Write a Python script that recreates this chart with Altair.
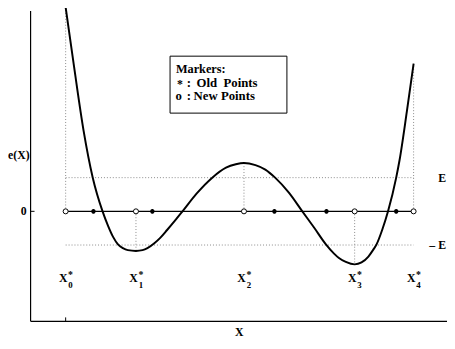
import altair as alt
import pandas as pd

# curve e(X)
curve_x = [0.0, 0.0971, 0.2066, 0.3116, 0.4245, 0.4888, 0.5453, 0.6017, 0.6582, 0.7146,
           0.8083, 0.8839, 0.9404, 1.0194, 1.0871, 1.1662, 1.2565, 1.3434,
           1.5049, 1.6855, 1.8435, 1.9564, 2.0501, 2.1822, 2.2951, 2.4080, 2.5661,
           2.7207, 2.8596, 2.9917, 3.0854, 3.1418, 3.2208, 3.3224, 3.4014, 3.4805,
           3.5369, 3.5742, 3.6386, 3.7062, 3.8000, 3.8383, 3.9230, 4.0000]
curve_y = [6.055, 4.286, 2.391, 1.0, 0.0, -0.437, -0.758, -0.98, -1.093, -1.152,
           -1.175, -1.152, -1.093, -0.948, -0.787, -0.554, -0.277, 0.0,
           0.525, 1.0, 1.297, 1.399, 1.437, 1.370, 1.239, 1.0, 0.554,
           0.0, -0.496, -0.98, -1.254, -1.385, -1.501, -1.574, -1.516, -1.341,
           -1.137, -0.98, -0.554, 0.0, 1.0, 1.516, 2.974, 4.382]

# new points (circles) X0*..X4* and the error at them
new_x = [0.0, 0.8083, 2.0501, 3.3224, 4.0]
new_e = [6.055, -1.175, 1.437, -1.574, 4.382]
sub_labels = ["0", "1", "2", "3", "4"]

# old points (stars)
old_x = [0.3195, 0.9968, 2.4001, 2.9984, 3.8000]

E = 1.0
band_labels = ["E", "\u2013 E"]

FONT = "'Liberation Serif', 'Times New Roman', Times, serif"
W, H = 424, 316
xs = alt.Scale(domain=[-0.403, 4.384], nice=False, zero=False)
ys = alt.Scale(domain=[-3.265, 5.948], nice=False, zero=False)

curve_df = pd.DataFrame({"x": curve_x, "y": curve_y})
new_df = pd.DataFrame({"x": new_x, "y0": [0.0] * len(new_x), "e": new_e, "sub": sub_labels})
old_df = pd.DataFrame({"x": old_x, "y0": [0.0] * len(old_x)})
band_df = pd.DataFrame({"x": [new_x[0]] * 2, "x2": [new_x[-1]] * 2, "y": [E, -E], "lab": band_labels})
zero_df = pd.DataFrame({"x": [new_x[0]], "x2": [new_x[-1]], "y": [0.0]})

X = lambda f: alt.X(f, type="quantitative", scale=xs, axis=None)
Y = lambda f: alt.Y(f, type="quantitative", scale=ys, axis=None)

dot_style = dict(color="#8a8a8a", strokeDash=[1, 2], strokeWidth=1)

vdots = alt.Chart(new_df).mark_rule(**dot_style).encode(x=X("x"), y=Y("y0"), y2="e")
hdots = alt.Chart(band_df).mark_rule(**dot_style).encode(x=X("x"), x2="x2", y=Y("y"))
zero_line = alt.Chart(zero_df).mark_rule(color="black", strokeWidth=1.2).encode(
    x=X("x"), x2="x2", y=Y("y"))
curve = alt.Chart(curve_df).mark_line(color="black", strokeWidth=2, interpolate="monotone").encode(
    x=X("x"), y=Y("y"))
circles = alt.Chart(new_df).mark_point(
    shape="circle", filled=True, fill="white", stroke="black", strokeWidth=1, size=26, opacity=1
).encode(x=X("x"), y=Y("y0"))
star_path = "M-1,0L1,0M0,-1L0,1M-0.7,-0.7L0.7,0.7M-0.7,0.7L0.7,-0.7"
stars = alt.Chart(old_df).mark_point(
    shape=star_path, filled=False, stroke="black", strokeWidth=1.4, size=22, opacity=1
).encode(x=X("x"), y=Y("y0"))

# axes
left_axis = alt.Chart(zero_df).mark_rule(color="black", strokeWidth=1.2).encode(
    x=alt.value(0), y=alt.value(0), y2=alt.value(H))
bottom_axis = alt.Chart(zero_df).mark_rule(color="black", strokeWidth=1.2).encode(
    x=alt.value(0), x2=alt.value(W), y=alt.value(H))
x_tick = alt.Chart(zero_df).mark_rule(color="black", strokeWidth=1).encode(
    x=X("x"), y=alt.value(H - 4), y2=alt.value(H))
y_tick = alt.Chart(zero_df).mark_rule(color="black", strokeWidth=1).encode(
    y=Y("y"), x=alt.value(0), x2=alt.value(4))

txt = dict(font=FONT, fontWeight="bold", color="black")
zero_lab = alt.Chart(zero_df).mark_text(text="0", align="right", baseline="middle", fontSize=12, **txt).encode(
    x=alt.value(-4), y=Y("y"))
ex_lab = alt.Chart(zero_df).mark_text(text="e(X)", align="right", baseline="middle", fontSize=12, **txt).encode(
    x=alt.value(-1), y=alt.value(147))
x_title = alt.Chart(zero_df).mark_text(text="X", align="center", baseline="alphabetic", fontSize=12, **txt).encode(
    x=alt.value(212.5), y=alt.value(331))
band_lab = alt.Chart(band_df).mark_text(align="right", baseline="middle", fontSize=12, **txt).encode(
    x=alt.value(423), y=Y("y"), text="lab")

lab_X = alt.Chart(new_df).mark_text(text="X", align="center", baseline="alphabetic", fontSize=12, dx=-2.5, **txt).encode(
    x=X("x"), y=alt.value(276))
lab_sub = alt.Chart(new_df).mark_text(align="center", baseline="alphabetic", fontSize=9, dx=5, **txt).encode(
    x=X("x"), y=alt.value(282), text="sub")
lab_star = alt.Chart(new_df).mark_text(text="*", align="center", baseline="alphabetic", fontSize=10, dx=5, **txt).encode(
    x=X("x"), y=alt.value(272))

# marker legend box (pixel layout inside the plot area)
box = alt.Chart(zero_df).mark_rect(fill="white", stroke="black", strokeWidth=1).encode(
    x=alt.value(142), x2=alt.value(261), y=alt.value(46), y2=alt.value(104))
legend_items = [
    ("Markers:", 148, 63, "left", 12.5),
    ("*", 152, 78, "center", 12),
    (":", 159, 77, "left", 13),
    ("Old\u00a0\u00a0Points", 169, 77, "left", 13),
    ("o", 147.5, 91, "left", 13),
    (":", 159, 91, "left", 13),
    ("New\u00a0Points", 166, 91, "left", 13),
]
leg_layers = [
    alt.Chart(zero_df).mark_text(text=t, align=a, baseline="alphabetic", fontSize=fs, **txt).encode(
        x=alt.value(px), y=alt.value(py))
    for t, px, py, a, fs in legend_items
]

chart = alt.layer(
    vdots, hdots, zero_line, curve, circles, stars,
    left_axis, bottom_axis, x_tick, y_tick,
    zero_lab, ex_lab, x_title, band_lab, lab_X, lab_sub, lab_star,
    box, *leg_layers,
).properties(
    width=W, height=H,
    autosize=alt.AutoSizeParams(type="none"),
    padding={"left": 23, "top": 0, "right": 0, "bottom": 17},
    background="white",
).configure_view(stroke=None)

chart.save("out.html", embed_options={"renderer": "svg", "actions": False})
